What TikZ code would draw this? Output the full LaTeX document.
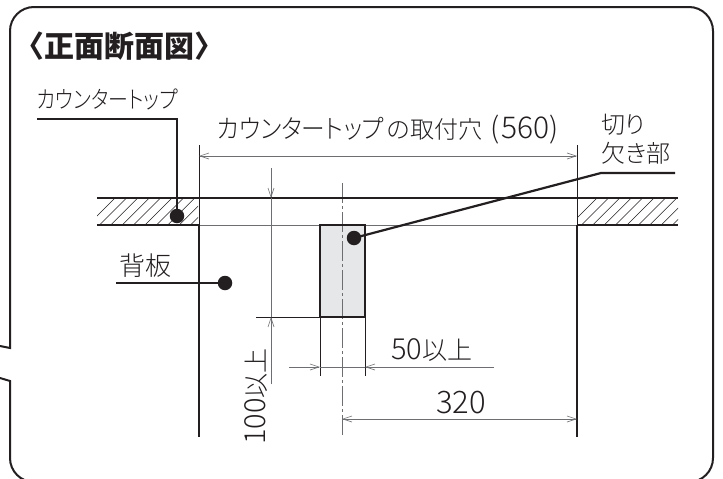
\documentclass[tikz,border=0pt]{standalone}
\usepackage{fontspec}
\usepackage{graphicx}
\setmainfont{Noto Sans CJK JP}
\newfontfamily\lightjp[RawFeature=+palt]{Noto Sans CJK JP Light}
\newcommand{\fsz}[1]{\fontsize{#1}{#1}\selectfont}
\usetikzlibrary{patterns,arrows.meta}
\definecolor{ink}{HTML}{231F20}
\definecolor{dimg}{HTML}{6D6E71}
\definecolor{fillg}{HTML}{E6E7E8}
\tikzset{
 frame/.style={draw=ink,line width=2pt},
 heavy/.style={draw=ink,line width=2.2pt},
 thin ink/.style={draw=ink,line width=1pt},
 dimline/.style={draw=dimg,line width=.9pt},
 dimarrow/.style={dimline,{Straight Barb[length=9pt,width=6pt,line width=.6pt]}-{Straight Barb[length=9pt,width=6pt,line width=.6pt]}},
 dot/.style={circle,fill=ink,inner sep=0pt,minimum size=14.5pt},
 lbl/.style={inner sep=0pt,text=ink,anchor=base west},
 hatchline/.style={draw=ink,line width=.55pt},
}
\begin{document}
\begin{tikzpicture}[x=1pt,y=-1pt]
\useasboundingbox (0,0) rectangle (723,479);
\fill[white] (0,0) rectangle (723,479);
\clip (0,0) rectangle (723,479);
% frame
\draw[frame] (0,346) -- (10,348) -- (10,31) arc[start angle=180,end angle=270,radius=24] -- (689,7) arc[start angle=270,end angle=360,radius=24] -- (713,458) arc[start angle=0,end angle=90,radius=24] -- (34,482) arc[start angle=90,end angle=180,radius=24] -- (10,381) -- (0,378);
% hatching
\begin{scope}
\clip (97,198) rectangle (198,225);
\foreach \i in {0,...,10} \draw[hatchline] ({88+\i*11.4},225) -- ({88+\i*11.4+27},198);
\end{scope}
\begin{scope}
\clip (577,198) rectangle (678,225);
\foreach \i in {0,...,10} \draw[hatchline] ({570+\i*11.4},225) -- ({570+\i*11.4+27},198);
\end{scope}
% cut-out
\fill[fillg] (320,225) rectangle (365,317);
% centre line
\draw[draw=dimg,line width=.9pt,dash pattern=on 20pt off 3pt on 3pt off 3pt] (342,183) -- (342,437);
% counter lines
\draw[dimline] (199,225) -- (577,225);
\draw[draw=ink,line width=1.4pt] (199,198) -- (577,198);
\draw[heavy] (97,198) -- (199,198);
\draw[heavy] (97,225) -- (199,225);
\draw[heavy] (577,198) -- (678,198);
\draw[heavy] (577,225) -- (678,225);
\draw[draw=ink,line width=1.6pt] (320,225) rectangle (365,317);
% walls
\draw[thin ink] (199,145) -- (199,225);
\draw[thin ink] (577,145) -- (577,225);
\draw[heavy] (199,225) -- (199,437);
\draw[heavy] (577,225) -- (577,437);
% extension lines
\draw[thin ink] (256,317) -- (320,317);
\draw[thin ink] (320,317) -- (320,376);
\draw[thin ink] (365,317) -- (365,376);
% dimensions
\coordinate (holeL) at (199,156); \coordinate (holeR) at (577,156);
\draw[dimarrow] (holeL) -- (holeR);
\coordinate (a) at (271,168); \coordinate (b) at (271,198); \coordinate (c) at (271,317); \coordinate (d) at (271,384);
\draw[dimline,-{Straight Barb[length=9pt,width=6pt,line width=.6pt]}] (a) -- (b);
\draw[dimline] (b) -- (c);
\draw[dimline,-{Straight Barb[length=9pt,width=6pt,line width=.6pt]}] (d) -- (c);
\coordinate (e) at (289,367); \coordinate (f) at (320,367); \coordinate (g) at (365,367); \coordinate (h) at (494,367);
\draw[dimline,-{Straight Barb[length=9pt,width=6pt,line width=.6pt]}] (e) -- (f);
\draw[dimline] (f) -- (g);
\draw[dimline,-{Straight Barb[length=9pt,width=6pt,line width=.6pt]}] (h) -- (g);
\coordinate (i) at (342,419); \coordinate (j) at (577,419);
\draw[dimarrow] (i) -- (j);
% leaders
\node[dot] (d1) at (177,216) {};
\node[dot] (d2) at (225,283) {};
\node[dot] (d3) at (354,238) {};
\coordinate (l1a) at (37,119); \coordinate (l1b) at (177,119);
\draw[heavy] (l1a) -- (l1b) -- (d1.center);
\coordinate (l2a) at (116,283);
\draw[heavy] (l2a) -- (d2.center);
\coordinate (l3a) at (675,173); \coordinate (l3b) at (601,173);
\draw[heavy] (l3a) -- (l3b) -- (d3.center);
% text
\node[lbl,font=\bfseries\fsz{30}] (title) at (14,57) {〈正面断面図〉};
\node[lbl,font=\lightjp\fsz{24}] (t1) at (37,108) {\scalebox{.83}[1]{カウンタートップ}};
\node[lbl,font=\lightjp\fsz{26}] (t2) at (217,138) {\scalebox{.91}[1]{カウンタートップ}\hspace{3pt}{\fsz{24}の取付穴}\hspace{8pt}{\fsz{29}(}\hspace{2pt}{\fsz{30}560}{\fsz{29})}};
\node[lbl,font=\lightjp\fsz{24}] (t3) at (601,133) {切り};
\node[lbl,font=\lightjp\fsz{24}] (t4) at (601,162) {欠き部};
\node[lbl,font=\lightjp\fsz{26}] (t5) at (119,275) {背板};
\node[lbl,font=\lightjp\fsz{29}] (t6) at (391,359) {50{\fsz{25}以上}};
\node[lbl,font=\lightjp\fsz{31}] (t7) at (436,413) {320};
\node[lbl,font=\lightjp\fsz{29},rotate=90] (t8) at (265,445) {100{\fsz{25}以上}};
\end{tikzpicture}
\end{document}
